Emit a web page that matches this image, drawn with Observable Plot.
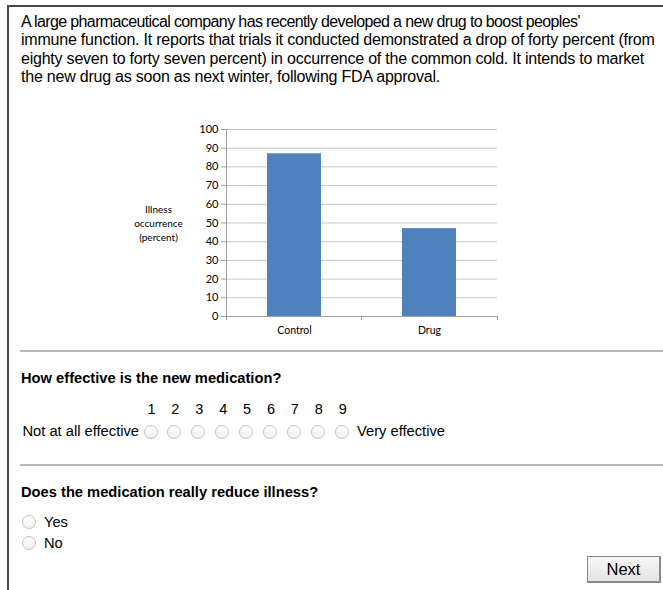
<!DOCTYPE html>
<html>
<head>
<meta charset="utf-8">
<script src="https://cdn.jsdelivr.net/npm/d3@7"></script>
<script src="https://cdn.jsdelivr.net/npm/@observablehq/plot@0.6"></script>
<style>
  html, body { margin: 0; padding: 0; background: #fff; }
  body { width: 663px; height: 590px; overflow: hidden; position: relative;
         font-family: "Liberation Sans", Arial, Helvetica, sans-serif; color: #000; }
  .abs { position: absolute; white-space: nowrap; }
  #frame { left: 7px; top: 5px; width: 660px; height: 600px;
           border-top: 2px solid #4a4a4a; border-left: 2px solid #4a4a4a; }
  #intro { left: 21px; top: 12.5px; font-size: 16px; line-height: 18.6px; letter-spacing: -0.22px; }
  #intro .l1 { letter-spacing: -0.62px; }
  #chart { left: 100px; top: 115px; }
  .sep { height: 2px; background: #b9b9b9; left: 20px; width: 643px; }
  .q { left: 21px; font-size: 14.7px; font-weight: bold; }
  .lab { font-size: 14.7px; }
  .num { font-size: 14.5px; width: 20px; text-align: center; margin-left: -10px; }
  .radio { width: 12px; height: 12px; border-radius: 50%; border: 1px solid #c4c4c4;
           background: linear-gradient(#ffffff, #f0f0f0); margin-left: -7px; margin-top: -7px; }
  #next { left: 587px; top: 556px; width: 71px; height: 24px; border: 1px solid #8a8a8a;
          border-right-width: 2px; border-bottom-width: 2px;
          background: linear-gradient(#f7f7f7, #e4e4e4); font-size: 16.5px; text-align: center; line-height: 24px; }
</style>
</head>
<body>
<div id="frame" class="abs"></div>
<div id="intro" class="abs"><span class="l1">A large pharmaceutical company has recently developed a new drug to boost peoples'</span><br>immune function. It reports that trials it conducted demonstrated a drop of forty percent (from<br>eighty seven to forty seven percent) in occurrence of the common cold. It intends to market<br>the new drug as soon as next winter, following FDA approval.</div>
<div id="chart" class="abs"></div>
<div class="abs sep" style="top:350px"></div>
<div class="abs q" style="top:370px">How effective is the new medication?</div>
<div id="scale"></div>
<div class="abs lab" style="right:524px; top:423px">Not at all effective</div>
<div class="abs lab" style="left:357px; top:423px">Very effective</div>
<div class="abs sep" style="top:464px"></div>
<div class="abs q" style="top:484px">Does the medication really reduce illness?</div>
<div id="answers"></div>
<div id="next" class="abs">Next</div>
<script>
// ---- data ----
const categories = ["Control", "Drug"];
const occurrence = [87, 47];
const yTicks = [0, 10, 20, 30, 40, 50, 60, 70, 80, 90, 100];
const yTitle = "Illness\noccurrence\n(percent)";
const scalePoints = [1, 2, 3, 4, 5, 6, 7, 8, 9];
const answers = ["Yes", "No"];

// ---- chart ----
const data = categories.map((c, i) => ({category: c, value: occurrence[i]}));

function axisLines(index, scales, values, dimensions) {
  const {width, height, marginLeft, marginRight, marginTop, marginBottom} = dimensions;
  const x0 = marginLeft, x1 = width - marginRight, y0 = marginTop, y1 = height - marginBottom;
  const g = d3.create("svg:g").attr("stroke", "#a0a0a0").attr("stroke-width", 1).attr("shape-rendering", "crispEdges");
  g.append("line").attr("x1", x0).attr("x2", x0).attr("y1", y0).attr("y2", y1);
  g.append("line").attr("x1", x0).attr("x2", x1).attr("y1", y1).attr("y2", y1);
  const n = categories.length;
  for (let k = 0; k <= n; k++) {
    const x = x0 + (x1 - x0) * k / n;
    g.append("line").attr("x1", x).attr("x2", x).attr("y1", y1).attr("y2", y1 + 4);
  }
  return g.node();
}

const chart = Plot.plot({
  width: 420,
  height: 230,
  marginLeft: 126,
  marginRight: 23,
  marginTop: 14,
  marginBottom: 29,
  style: {fontFamily: "Lato, 'Open Sans', sans-serif", fontSize: "10.5px", color: "#000", background: "transparent"},
  x: {domain: categories, paddingInner: 0.6, paddingOuter: 0.3, label: null},
  y: {domain: [0, 100], label: null},
  marks: [
    Plot.gridY(yTicks, {stroke: "#c6c6c6", strokeOpacity: 1, strokeWidth: 1}),
    Plot.barY(data, {x: "category", y: "value", fill: "#4f81bd"}),
    axisLines,
    Plot.axisY(yTicks, {tickSize: 5, tickPadding: 3, stroke: "#a0a0a0", fill: "#000", fontSize: 11, label: null}),
    Plot.axisX({tickSize: 0, tickPadding: 10, fill: "#000", fontSize: 10.5, label: null}),
    Plot.text([yTitle], {frameAnchor: "left", dx: -68, textAnchor: "middle", lineHeight: 1.4, fontSize: 10, fill: "#000"})
  ]
});
document.getElementById("chart").appendChild(chart);

// ---- survey widgets ----
const scaleEl = document.getElementById("scale");
scalePoints.forEach((p, i) => {
  const cx = 151.5 + 23.9 * i;
  const n = document.createElement("div");
  n.className = "abs num"; n.style.left = cx + "px"; n.style.top = "401px"; n.textContent = p;
  scaleEl.appendChild(n);
  const r = document.createElement("div");
  r.className = "abs radio"; r.style.left = (cx - 1) + "px"; r.style.top = "432px";
  scaleEl.appendChild(r);
});
const ansEl = document.getElementById("answers");
answers.forEach((a, i) => {
  const cy = 522 + 21 * i;
  const r = document.createElement("div");
  r.className = "abs radio"; r.style.left = "29px"; r.style.top = cy + "px";
  ansEl.appendChild(r);
  const t = document.createElement("div");
  t.className = "abs lab"; t.style.left = "44px"; t.style.top = (cy - 8.5) + "px"; t.textContent = a;
  ansEl.appendChild(t);
});
</script>
</body>
</html>
